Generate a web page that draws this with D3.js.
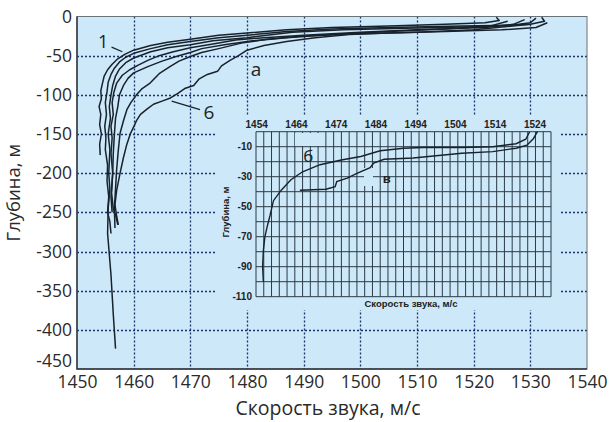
<!DOCTYPE html>
<html>
<head>
<meta charset="utf-8">
<script src="https://cdn.jsdelivr.net/npm/d3@7"></script>
<style>
body { margin: 0; background: #fff; }
svg { display: block; }
</style>
</head>
<body>
<script>
// main chart ticks
const xTicks = [1450, 1460, 1470, 1480, 1490, 1500, 1510, 1520, 1530, 1540];
const yTicks = [0, -50, -100, -150, -200, -250, -300, -350, -400, -450];

// sound speed profiles [speed m/s, depth m]
const curve1 = [[1524,-1],[1524.5,-5],[1522,-8],[1515,-10],[1505,-12],[1495,-14],[1487,-17],[1480,-21],[1475,-24],[1470,-29],[1466,-33],[1463,-37],[1460,-43],[1458.5,-48],[1457.2,-54],[1456.2,-61],[1455.4,-68],[1454.8,-76],[1454.5,-85],[1454.2,-95],[1454.3,-105],[1453.9,-115],[1454.2,-125],[1454,-138],[1454.3,-150],[1454,-163],[1454.1,-177]];
const curve2 = [[1531,-2],[1530,-8],[1527,-11],[1518,-12],[1505,-14],[1495,-16],[1487,-19],[1480,-24],[1475,-27],[1470,-32],[1466,-36],[1463,-41],[1460,-47],[1458.6,-52],[1457.5,-58],[1456.6,-66],[1456,-74],[1455.5,-84],[1455.3,-96],[1455,-110],[1455.2,-125],[1454.9,-140],[1455.1,-155],[1455,-170],[1455.4,-190],[1455.3,-210],[1455.6,-230],[1455.4,-250],[1455.8,-262],[1456,-277]];
const curve3 = [[1532,-1],[1532.5,-6],[1530,-10],[1520,-13],[1508,-15],[1497,-17],[1488,-20],[1480,-27],[1474,-31],[1470,-36],[1466,-40],[1463,-45],[1460,-53],[1458.6,-59],[1457.5,-67],[1456.8,-76],[1456.3,-88],[1456,-100],[1455.7,-115],[1455.9,-130],[1455.5,-150],[1455.8,-170],[1455.6,-200],[1455.8,-220],[1455.5,-245],[1455.4,-277],[1456,-330],[1456.4,-380],[1456.8,-424]];
const curve4 = [[1529,-4],[1527,-10],[1522,-14],[1510,-17],[1500,-20],[1490,-24],[1483,-27],[1478,-30],[1474,-35],[1470,-40],[1467,-45],[1464.5,-50],[1462.5,-56],[1460.8,-62],[1459.3,-68],[1458,-75],[1457,-85],[1456.5,-97],[1456.2,-110],[1456.4,-125],[1456,-140],[1456.2,-155],[1456,-175],[1456.3,-200],[1456.1,-225],[1456.4,-245],[1456.9,-256],[1457.2,-266]];
const curve5 = [[1526,-6],[1523,-12],[1515,-16],[1505,-19],[1495,-23],[1487,-27],[1481,-31],[1476,-36],[1472,-41],[1470,-46],[1467.5,-51],[1465,-57],[1462.5,-64],[1460,-72],[1459,-79],[1458.2,-88],[1457.5,-100],[1457.2,-115],[1456.8,-130],[1456.6,-150],[1456.4,-175],[1456.3,-200],[1456,-230],[1456.2,-250]];
const curve6a = [[1530,-10],[1520,-17],[1510,-20],[1500,-22],[1490,-25],[1483.5,-29],[1479,-34],[1475,-41],[1472,-46],[1470,-51],[1468,-57],[1466.4,-64],[1464.5,-73],[1462.9,-85],[1461.5,-92],[1460.5,-100],[1459.5,-110],[1458.8,-119],[1458.2,-133],[1457.6,-149],[1457.3,-170],[1457,-195],[1456.8,-220],[1456.6,-245],[1456.7,-270]];
const curve6 = [[1533,-8],[1531,-14],[1525,-17],[1515,-19],[1505,-21],[1498,-23],[1492,-27],[1487,-32],[1483,-37],[1480,-43],[1478.5,-50],[1477,-56],[1475.5,-63],[1474.8,-70],[1473,-74],[1471.5,-80],[1470.6,-88],[1469,-92],[1467.8,-98],[1466.5,-104],[1465,-108],[1463.5,-112],[1462.4,-118],[1461.2,-125],[1460.5,-133],[1460,-141],[1459.4,-150],[1458.8,-163],[1458.2,-180],[1457.6,-200],[1457,-222],[1456.7,-240],[1457,-255],[1457.3,-266]];
const profiles = [curve1, curve2, curve3, curve4, curve5, curve6a, curve6];

// inset
const insetXTicks = [1454, 1464, 1474, 1484, 1494, 1504, 1514, 1524];
const insetYTicks = [-10, -30, -50, -70, -90, -110];
const curveB = [[1522.5,0],[1521.5,-5],[1519,-8],[1513,-10],[1505,-10.5],[1495,-10.5],[1490,-11],[1484,-12.7],[1479,-16.5],[1474,-18.9],[1468.5,-22],[1464,-26.7],[1461,-32],[1458.5,-39],[1456.5,-46],[1455.6,-56],[1455,-62],[1454.3,-70],[1453.9,-79],[1453.7,-90],[1453.9,-100]];
const curveV = [[1524.5,0],[1523.5,-4.5],[1521.8,-9],[1519,-11],[1513,-13.3],[1505,-14.4],[1492.5,-17.5],[1485,-18.4],[1482.3,-21],[1481.4,-24],[1478,-27.8],[1475.5,-31],[1472.8,-33.3],[1472.4,-36.7],[1470,-38.4],[1463.3,-39]];

const W = 611, H = 422;
const bg = '#cde8f8';
const ink = '#18222c';
const grid = '#16336e';
const font = '"Open Sans", sans-serif';

const svg = d3.select('body').append('svg')
    .attr('width', W)
    .attr('height', H);

const x = d3.scaleLinear().domain([1450, 1540]).range([77, 587]);
const y = d3.scaleLinear().domain([-450, 0]).range([369, 16.5]);
const px = v => Math.round(v) + 0.5;

svg.append('rect')
    .attr('x', x(1450)).attr('y', y(0))
    .attr('width', x(1540) - x(1450)).attr('height', y(-450) - y(0))
    .attr('fill', bg);

// dotted grid
const gridG = svg.append('g').attr('class', 'grid');
gridG.selectAll('line.gx')
  .data(xTicks.slice(1, -1))
  .enter().append('line')
    .attr('class', 'gx')
    .attr('x1', d => px(x(d))).attr('x2', d => px(x(d)))
    .attr('y1', y(0)).attr('y2', y(-450));
gridG.selectAll('line.gy')
  .data(yTicks.slice(1, -1))
  .enter().append('line')
    .attr('class', 'gy')
    .attr('x1', x(1450)).attr('x2', x(1540))
    .attr('y1', d => px(y(d))).attr('y2', d => px(y(d)));
gridG.selectAll('line')
    .style('stroke', grid)
    .style('stroke-width', '1.3px')
    .style('stroke-dasharray', '2 2');

// frame
svg.append('rect')
    .attr('x', x(1450)).attr('y', y(0))
    .attr('width', x(1540) - x(1450)).attr('height', y(-450) - y(0))
    .attr('fill', 'none').attr('stroke', '#6b7378').attr('stroke-width', 1);
svg.append('path')
    .attr('d', `M${x(1450)},${y(0)}V${y(-450)}H${x(1540)}`)
    .attr('fill', 'none').attr('stroke', '#2a3138').attr('stroke-width', 1.4);

// axes
const xAxis = svg.append('g')
    .attr('transform', `translate(0,${y(-450)})`)
    .call(d3.axisBottom(x).tickValues(xTicks).tickSize(0).tickPadding(7).tickFormat(d3.format('d')));
const yAxis = svg.append('g')
    .attr('transform', `translate(${x(1450)},0)`)
    .call(d3.axisLeft(y).tickValues(yTicks).tickSize(0).tickPadding(5).tickFormat(d => String(d)));
[xAxis, yAxis].forEach(g => {
  g.select('.domain').remove();
  g.selectAll('text').attr('font-family', font).attr('font-size', 17.5).attr('fill', '#2a2a2a');
});
yAxis.selectAll('text').filter(d => d === -450).attr('dy', '-0.12em');

svg.append('text')
    .attr('x', (x(1450) + x(1540)) / 2 - 4).attr('y', 415)
    .attr('text-anchor', 'middle')
    .attr('font-family', font).attr('font-size', 19.5).attr('fill', '#2a2a2a')
    .text('Скорость звука, м/с');
svg.append('text')
    .attr('transform', `translate(20,${(y(0) + y(-450)) / 2}) rotate(-90)`)
    .attr('text-anchor', 'middle')
    .attr('font-family', font).attr('font-size', 18.5).attr('fill', '#2a2a2a')
    .text('Глубина, м');

// profiles
const line = d3.line()
    .x(d => x(d[0]))
    .y(d => y(d[1]));

svg.append('g').selectAll('path')
  .data(profiles)
  .enter().append('path')
    .attr('d', line)
    .attr('fill', 'none')
    .attr('stroke', ink)
    .attr('stroke-width', 1.5)
    .attr('stroke-linejoin', 'round');

// annotations
function label(t, sx, sy, size) {
  svg.append('text')
      .attr('x', x(sx)).attr('y', y(sy))
      .attr('text-anchor', 'middle')
      .attr('font-family', font).attr('font-size', size).attr('fill', '#222')
      .text(t);
}
label('1', 1454.6, -40, 18);
label('а', 1481.6, -76, 19);
label('6', 1473.3, -131, 19);
svg.append('line')
    .attr('x1', x(1456.1)).attr('y1', y(-39))
    .attr('x2', x(1458)).attr('y2', y(-45))
    .attr('stroke', ink).attr('stroke-width', 1.3);
svg.append('line')
    .attr('x1', x(1466.7)).attr('y1', y(-108))
    .attr('x2', x(1471.7)).attr('y2', y(-119))
    .attr('stroke', ink).attr('stroke-width', 1.3);

// inset
const ix = d3.scaleLinear().domain([1452, 1528]).range([256, 551]);
const iy = d3.scaleLinear().domain([0, -110]).range([131.7, 296.7]);
const ixLab = d3.scaleLinear().domain([1454, 1524]).range([256.7, 535]);
const bold = 'Arial, "Liberation Sans", sans-serif';

svg.append('rect')
    .attr('x', 215).attr('y', 116)
    .attr('width', 345).attr('height', 194)
    .attr('fill', bg);

const inset = svg.append('g');
inset.selectAll('line.v')
  .data(d3.range(1452, 1529, 2))
  .enter().append('line')
    .attr('x1', d => ix(d)).attr('x2', d => ix(d))
    .attr('y1', iy(0)).attr('y2', iy(-110))
    .attr('stroke', '#2b3a46').attr('stroke-width', 1);
inset.selectAll('line.h')
  .data(d3.range(0, -111, -10))
  .enter().append('line')
    .attr('x1', ix(1452)).attr('x2', ix(1528))
    .attr('y1', d => iy(d)).attr('y2', d => iy(d))
    .attr('stroke', '#2b3a46').attr('stroke-width', 1);

// label patches
inset.append('rect').attr('x', 295).attr('y', 133).attr('width', 25).attr('height', 13).attr('fill', bg);
inset.append('rect').attr('x', 364).attr('y', 168).attr('width', 9).attr('height', 18).attr('fill', bg);

inset.selectAll('text.xt')
  .data(insetXTicks)
  .enter().append('text')
    .attr('x', d => ixLab(d)).attr('y', 128)
    .attr('text-anchor', 'middle')
    .attr('font-family', bold).attr('font-weight', 'bold').attr('font-size', 10).attr('fill', '#222')
    .text(d => d);
inset.selectAll('text.yt')
  .data(insetYTicks)
  .enter().append('text')
    .attr('x', 252).attr('y', d => iy(d)).attr('dy', '0.35em')
    .attr('text-anchor', 'end')
    .attr('font-family', bold).attr('font-weight', 'bold').attr('font-size', 10).attr('fill', '#222')
    .text(d => d);
inset.append('text')
    .attr('x', 411).attr('y', 307)
    .attr('text-anchor', 'middle')
    .attr('font-family', bold).attr('font-weight', 'bold').attr('font-size', 9.5).attr('fill', '#222')
    .text('Скорость  звука, м/с');
inset.append('text')
    .attr('transform', `translate(229,212) rotate(-90)`)
    .attr('text-anchor', 'middle')
    .attr('font-family', bold).attr('font-weight', 'bold').attr('font-size', 9.5).attr('fill', '#222')
    .text('Глубина, м');

const iline = d3.line()
    .x(d => ix(d[0]))
    .y(d => iy(d[1]));
inset.selectAll('path')
  .data([curveB, curveV])
  .enter().append('path')
    .attr('d', iline)
    .attr('fill', 'none')
    .attr('stroke', ink)
    .attr('stroke-width', 1.4);

inset.append('text')
    .attr('x', ix(1465.5)).attr('y', iy(-20.5))
    .attr('text-anchor', 'middle')
    .attr('font-family', font).attr('font-size', 17).attr('fill', '#222')
    .text('б');
inset.append('text')
    .attr('x', ix(1485.7)).attr('y', iy(-34.5))
    .attr('text-anchor', 'middle')
    .attr('font-family', bold).attr('font-weight', 'bold').attr('font-size', 13).attr('fill', '#222')
    .text('в');
</script>
</body>
</html>
